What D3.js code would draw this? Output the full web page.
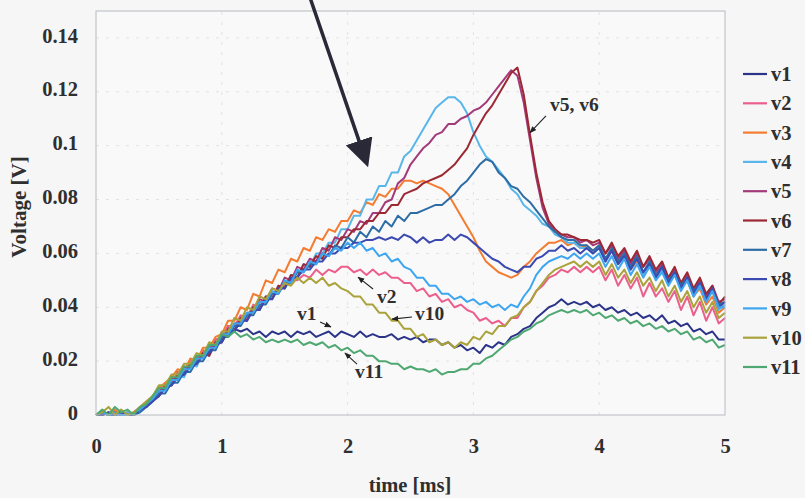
<!DOCTYPE html>
<html>
<head>
<meta charset="utf-8">
<script src="https://cdn.jsdelivr.net/npm/d3@7"></script>
<style>
  html, body { margin: 0; padding: 0; background: #f6f6f6; }
  svg { display: block; }
  text { font-family: "Liberation Serif", "Times New Roman", serif; font-weight: bold; fill: #2f2f2f; }
</style>
</head>
<body>
<svg id="chart" width="805" height="498"></svg>
<script>
// sample step of the recorded traces, in ms
const step = 0.05;

const seriesNames = ['v1', 'v2', 'v3', 'v4', 'v5', 'v6', 'v7', 'v8', 'v9', 'v10', 'v11'];
const seriesColors = ['#2b3488', '#ec5f8c', '#f47c30', '#58b6ea', '#a33a7a', '#9c2834',
                      '#2d6da6', '#3a4ab0', '#3ea6f0', '#aaa23a', '#4fa872'];

const xTicks = [0, 1, 2, 3, 4, 5];
const yTicks = [0, 0.02, 0.04, 0.06, 0.08, 0.1, 0.12, 0.14];
const yTickLabels = ['0', '0.02', '0.04', '0.06', '0.08', '0.1', '0.12', '0.14'];

// voltages [V], one value every 0.05 ms from 0 to 5 ms
const v1 = [0.000, 0.001, 0.000, 0.001, 0.000, 0.001, 0.000, 0.003, 0.003, 0.007,
  .007, .011, .011, .016, .015, .020, .019, .024, .023, .028,
  .028, .033, .032, .031, .032, .030, .031, .029, .031, .030,
  .031, .029, .031, .030, .031, .029, .030, .031, .029, .031,
  .030, .029, .031, .029, .030, .029, .029, .030, .028, .029,
  .028, .029, .027, .028, .028, .026, .027, .025, .026, .024,
  .025, .023, .026, .025, .027, .026, .029, .030, .032, .033,
  .036, .038, .040, .041, .043, .041, .042, .041, .042, .040,
  .041, .039, .040, .038, .039, .037, .038, .036, .037, .035,
  .037, .034, .035, .033, .034, .031, .032, .030, .031, .028,
  .028];
const v2 = [0.000, 0.000, 0.001, 0.000, 0.001, 0.000, 0.001, 0.003, 0.004, 0.007,
  .008, .012, .012, .016, .016, .020, .020, .024, .023, .028,
  .029, .033, .033, .037, .036, .041, .040, .044, .044, .047,
  .048, .050, .050, .052, .051, .054, .052, .054, .053, .055,
  .055, .053, .054, .052, .054, .052, .053, .051, .051, .049,
  .049, .046, .047, .044, .045, .042, .043, .040, .041, .039,
  .038, .035, .036, .034, .035, .033, .036, .036, .040, .042,
  .046, .048, .051, .052, .054, .053, .055, .053, .055, .053,
  .055, .050, .054, .048, .052, .047, .051, .044, .049, .044,
  .047, .042, .046, .039, .044, .037, .042, .035, .040, .034,
  .036];
const v3 = [0.000, 0.001, 0.000, 0.002, 0.000, 0.001, 0.000, 0.003, 0.005, 0.007,
  .010, .012, .014, .017, .016, .021, .020, .025, .025, .029,
  .030, .035, .035, .040, .039, .045, .044, .050, .049, .054,
  .053, .058, .057, .062, .061, .066, .065, .069, .068, .072,
  .072, .076, .075, .079, .078, .082, .081, .084, .084, .087,
  .087, .086, .087, .086, .085, .084, .082, .078, .074, .070,
  .066, .061, .057, .055, .053, .052, .051, .052, .055, .057,
  .060, .062, .064, .064, .065, .063, .064, .062, .063, .061,
  .063, .058, .061, .056, .059, .054, .057, .052, .056, .051,
  .054, .049, .052, .047, .050, .044, .047, .041, .044, .038,
  .040];
const v4 = [0.000, 0.000, 0.001, 0.000, 0.000, 0.001, 0.000, 0.002, 0.004, 0.006,
  .007, .011, .011, .015, .014, .019, .018, .023, .022, .027,
  .027, .032, .031, .036, .035, .040, .039, .044, .043, .048,
  .047, .052, .051, .056, .055, .060, .060, .064, .064, .069,
  .069, .074, .074, .080, .080, .085, .085, .090, .090, .096,
  .098, .102, .106, .110, .114, .116, .118, .118, .116, .112,
  .105, .100, .096, .094, .091, .088, .084, .082, .078, .076,
  .074, .071, .070, .067, .066, .064, .064, .062, .062, .060,
  .062, .057, .061, .056, .059, .054, .058, .052, .056, .051,
  .054, .049, .052, .047, .050, .044, .048, .042, .046, .039,
  .041];
const v5 = [0.000, 0.000, 0.001, 0.000, 0.001, 0.000, 0.000, 0.002, 0.004, 0.006,
  .009, .010, .014, .013, .018, .017, .022, .021, .026, .025,
  .030, .029, .034, .034, .038, .038, .043, .042, .047, .046,
  .051, .050, .055, .054, .058, .057, .062, .061, .066, .065,
  .069, .068, .072, .071, .075, .075, .079, .080, .086, .088,
  .093, .096, .099, .101, .104, .105, .108, .108, .110, .111,
  .113, .114, .116, .119, .122, .125, .128, .126, .116, .102,
  .088, .077, .071, .068, .067, .066, .066, .064, .065, .063,
  .064, .060, .063, .058, .061, .056, .060, .055, .058, .053,
  .056, .051, .054, .049, .052, .046, .050, .044, .048, .042,
  .043];
const v6 = [0.000, 0.001, 0.000, 0.001, 0.000, 0.000, 0.001, 0.002, 0.003, 0.006,
  .007, .011, .011, .015, .015, .019, .019, .023, .022, .027,
  .027, .032, .031, .036, .035, .040, .039, .044, .043, .048,
  .047, .052, .051, .056, .055, .059, .058, .063, .062, .066,
  .066, .069, .069, .072, .072, .075, .075, .078, .078, .082,
  .083, .084, .086, .087, .088, .089, .091, .093, .096, .099,
  .104, .108, .112, .115, .119, .123, .127, .129, .119, .104,
  .090, .079, .072, .069, .067, .067, .066, .065, .065, .064,
  .065, .060, .064, .059, .062, .057, .061, .055, .059, .054,
  .057, .051, .055, .049, .053, .047, .051, .045, .048, .041,
  .044];
const v7 = [0.000, 0.001, 0.000, 0.000, 0.001, 0.000, 0.000, 0.001, 0.003, 0.005,
  .008, .008, .012, .012, .016, .016, .020, .020, .024, .024,
  .029, .029, .033, .033, .037, .037, .041, .041, .045, .045,
  .049, .049, .053, .053, .056, .056, .060, .059, .063, .062,
  .066, .064, .068, .066, .070, .068, .072, .070, .074, .072,
  .075, .075, .076, .077, .078, .078, .080, .082, .085, .087,
  .090, .093, .095, .094, .090, .088, .085, .084, .081, .079,
  .076, .073, .070, .068, .066, .065, .065, .063, .063, .061,
  .063, .058, .062, .057, .060, .055, .059, .053, .057, .052,
  .055, .050, .053, .048, .051, .046, .049, .043, .047, .041,
  .042];
const v8 = [0.000, 0.000, 0.001, 0.000, 0.001, 0.000, 0.000, 0.002, 0.003, 0.005,
  .007, .010, .011, .014, .015, .018, .019, .022, .023, .026,
  .027, .031, .031, .035, .035, .039, .039, .043, .043, .047,
  .047, .051, .051, .054, .054, .057, .057, .060, .060, .062,
  .062, .064, .064, .065, .065, .066, .065, .066, .065, .067,
  .066, .064, .066, .064, .065, .065, .067, .065, .067, .066,
  .064, .062, .060, .058, .057, .055, .054, .053, .055, .055,
  .058, .059, .061, .061, .063, .061, .062, .060, .062, .060,
  .062, .057, .061, .056, .059, .054, .058, .053, .056, .051,
  .055, .049, .053, .047, .051, .045, .049, .043, .047, .040,
  .042];
const v9 = [0.000, 0.001, 0.000, 0.001, 0.000, 0.000, 0.001, 0.002, 0.004, 0.006,
  .009, .009, .013, .013, .017, .017, .021, .021, .025, .025,
  .030, .030, .034, .034, .038, .038, .042, .042, .046, .045,
  .050, .049, .054, .053, .057, .056, .060, .059, .062, .061,
  .064, .062, .064, .061, .062, .059, .060, .057, .058, .055,
  .054, .051, .051, .048, .048, .045, .045, .043, .044, .042,
  .043, .041, .042, .040, .041, .039, .041, .040, .044, .047,
  .052, .055, .057, .058, .059, .058, .060, .058, .060, .058,
  .060, .055, .059, .054, .058, .052, .056, .051, .055, .050,
  .053, .048, .052, .046, .050, .044, .048, .042, .046, .040,
  .040];
const v10 = [0.000, 0.001, 0.003, 0.000, 0.002, 0.000, 0.001, 0.003, 0.005, 0.007,
  .011, .011, .015, .015, .019, .019, .023, .022, .027, .026,
  .031, .031, .036, .035, .040, .039, .044, .043, .047, .046,
  .049, .048, .051, .049, .051, .049, .051, .048, .049, .047,
  .046, .044, .044, .041, .041, .038, .038, .035, .035, .032,
  .032, .029, .030, .027, .028, .026, .027, .025, .027, .026,
  .029, .028, .031, .030, .033, .033, .036, .037, .040, .042,
  .046, .049, .052, .054, .055, .056, .057, .055, .057, .055,
  .057, .052, .056, .051, .054, .049, .053, .048, .051, .046,
  .050, .044, .048, .042, .046, .040, .044, .038, .042, .036,
  .038];
const v11 = [0.000, 0.002, 0.000, 0.003, 0.001, 0.002, 0.000, 0.003, 0.004, 0.007,
  .010, .010, .014, .014, .018, .018, .022, .022, .026, .026,
  .030, .029, .031, .029, .030, .028, .029, .027, .028, .027,
  .028, .027, .028, .026, .027, .026, .027, .025, .026, .024,
  .025, .023, .024, .022, .022, .020, .020, .019, .019, .017,
  .018, .017, .017, .016, .017, .015, .016, .016, .017, .017,
  .019, .019, .021, .022, .024, .026, .028, .029, .031, .032,
  .034, .035, .037, .038, .039, .038, .039, .038, .039, .037,
  .038, .036, .037, .035, .036, .034, .035, .033, .034, .032,
  .033, .031, .032, .030, .031, .028, .029, .027, .028, .025,
  .026];
const seriesValues = [v1, v2, v3, v4, v5, v6, v7, v8, v9, v10, v11];

// callouts: label text, label anchor [ms, V], leader from / to [ms, V]
const callouts = [
  { text: 'v5, v6', at: [3.609, 0.1129], from: [3.577, 0.1111], to: [3.450, 0.1048] },
  { text: 'v2',     at: [2.234, 0.0416], from: [2.202, 0.0468], to: [2.083, 0.0512] },
  { text: 'v10',    at: [2.536, 0.0353], from: [2.512, 0.0364], to: [2.353, 0.0356] },
  { text: 'v1',     at: [1.598, 0.0353], from: [1.781, 0.0345], to: [1.868, 0.0327] },
  { text: 'v11',    at: [2.059, 0.0137], from: [2.075, 0.0189], to: [1.979, 0.0230] }
];
// big pointer arrow [ms, V]
const pointer = { from: [1.701, 0.1550], to: [2.162, 0.0921] };

const svg = d3.select('#chart');
const fontSize = 20.5;

const x = d3.scaleLinear().domain([0, 5]).range([96, 725]);
const y = d3.scaleLinear().domain([0, 0.15]).range([415, 11]);

// plot area
svg.append('rect')
  .attr('x', x(0)).attr('y', y(0.15))
  .attr('width', x(5) - x(0)).attr('height', y(0) - y(0.15))
  .attr('fill', '#f9f9f9');

// faint dashed grid
svg.append('g').selectAll('line')
  .data(yTicks.slice(1))
  .join('line')
  .attr('x1', x(0)).attr('x2', x(5))
  .attr('y1', d => y(d)).attr('y2', d => y(d))
  .attr('stroke', '#e2e2e2').attr('stroke-width', 1)
  .attr('stroke-dasharray', '3,7');

svg.append('g').selectAll('line')
  .data(xTicks.slice(1, -1))
  .join('line')
  .attr('x1', d => x(d)).attr('x2', d => x(d))
  .attr('y1', y(0)).attr('y2', y(0.15))
  .attr('stroke', '#e2e2e2').attr('stroke-width', 1)
  .attr('stroke-dasharray', '3,7');

// axes
const xAxis = d3.axisBottom(x).tickValues(xTicks).tickSize(0).tickPadding(23)
  .tickFormat(d => d);
const gx = svg.append('g').attr('transform', `translate(0,${y(0)})`).call(xAxis);
gx.select('.domain').remove();
gx.selectAll('text').attr('font-size', fontSize).style('fill', '#2f2f2f')
  .attr('font-family', '"Liberation Serif", serif');

const yAxis = d3.axisLeft(y).tickValues(yTicks).tickSize(0).tickPadding(18)
  .tickFormat((d, i) => yTickLabels[i]);
const gy = svg.append('g').attr('transform', `translate(${x(0)},0)`).call(yAxis);
gy.select('.domain').remove();
gy.selectAll('text').attr('font-size', fontSize).attr('dy', '0.2em').style('fill', '#2f2f2f')
  .attr('font-family', '"Liberation Serif", serif');

// traces
const times = d3.range(seriesValues[0].length).map(i => i * step);
const line = d3.line()
  .x((d, i) => x(times[i]))
  .y(d => y(d));

svg.append('g').selectAll('path')
  .data(seriesValues)
  .join('path')
  .attr('d', line)
  .attr('fill', 'none')
  .attr('stroke', (d, i) => seriesColors[i])
  .attr('stroke-width', 2)
  .attr('stroke-linejoin', 'round');

// plot border
svg.append('rect')
  .attr('x', x(0)).attr('y', y(0.15))
  .attr('width', x(5) - x(0)).attr('height', y(0) - y(0.15))
  .attr('fill', 'none').attr('stroke', '#b6bac2').attr('stroke-width', 1);

// axis titles
svg.append('text')
  .attr('x', 410).attr('y', 492)
  .attr('text-anchor', 'middle').attr('font-size', fontSize)
  .text('time [ms]');

svg.append('text')
  .attr('transform', 'translate(26,207) rotate(-90)')
  .attr('text-anchor', 'middle').attr('font-size', 21)
  .text('Voltage [V]');

// legend
const ly = d3.scalePoint().domain(seriesNames).range([74, 367]);
const legend = svg.append('g').selectAll('g')
  .data(seriesNames)
  .join('g')
  .attr('transform', d => `translate(0,${ly(d)})`);
legend.append('line')
  .attr('x1', 743).attr('x2', 767)
  .attr('stroke', (d, i) => seriesColors[i]).attr('stroke-width', 2.2);
legend.append('text')
  .attr('x', 771).attr('dy', '0.35em').attr('font-size', fontSize)
  .text(d => d);

// arrow heads
const defs = svg.append('defs');
defs.append('marker')
  .attr('id', 'small-head')
  .attr('viewBox', '0 0 10 10').attr('refX', 9).attr('refY', 5)
  .attr('markerWidth', 7).attr('markerHeight', 7)
  .attr('markerUnits', 'userSpaceOnUse')
  .attr('orient', 'auto')
  .append('path').attr('d', 'M0,1 L10,5 L0,9 Z').attr('fill', '#222');

defs.append('marker')
  .attr('id', 'big-head')
  .attr('viewBox', '0 0 10 10').attr('refX', 2).attr('refY', 5)
  .attr('markerWidth', 28).attr('markerHeight', 28)
  .attr('markerUnits', 'userSpaceOnUse')
  .attr('orient', 'auto')
  .append('path').attr('d', 'M0,0 L10,5 L0,10 Z').attr('fill', '#2a2938');

// callouts
const co = svg.append('g').selectAll('g').data(callouts).join('g');
co.append('line')
  .attr('x1', d => x(d.from[0])).attr('y1', d => y(d.from[1]))
  .attr('x2', d => x(d.to[0])).attr('y2', d => y(d.to[1]))
  .attr('stroke', '#222').attr('stroke-width', 1.1)
  .attr('marker-end', 'url(#small-head)');
co.append('text')
  .attr('x', d => x(d.at[0])).attr('y', d => y(d.at[1]))
  .attr('font-size', 19.5)
  .text(d => d.text);

// big pointer
const p0 = [x(pointer.from[0]), y(pointer.from[1])];
const p1 = [x(pointer.to[0]), y(pointer.to[1])];
const len = Math.hypot(p1[0] - p0[0], p1[1] - p0[1]);
const shaftEnd = [p1[0] - (p1[0] - p0[0]) / len * 22, p1[1] - (p1[1] - p0[1]) / len * 22];
svg.append('line')
  .attr('x1', p0[0]).attr('y1', p0[1])
  .attr('x2', shaftEnd[0]).attr('y2', shaftEnd[1])
  .attr('stroke', '#2a2938').attr('stroke-width', 3.5)
  .attr('marker-end', 'url(#big-head)');
</script>
</body>
</html>
